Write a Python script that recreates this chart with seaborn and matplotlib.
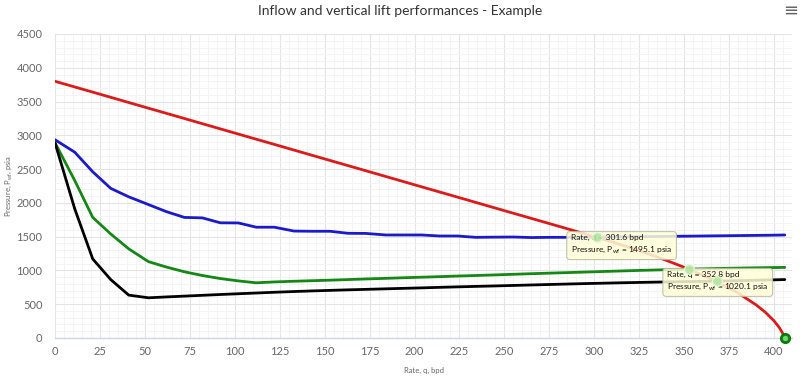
import matplotlib
matplotlib.use("Agg")
import matplotlib.pyplot as plt
from matplotlib.ticker import MultipleLocator
import pandas as pd
import seaborn as sns

# IPR curve (red)
q_ipr = [0, 25, 50, 75, 100, 125, 150, 175, 200, 225, 250, 275, 300,
         310, 320, 330, 340, 350, 360, 370, 380, 390, 395, 400, 403, 405, 406]
p_ipr = [3800, 3609, 3417, 3226, 3034, 2843, 2651, 2460, 2268, 2077, 1885, 1694, 1502,
         1421, 1336, 1247, 1150, 1047, 934, 809, 665, 491, 385, 254, 152, 61, 0]

# VLP curves share the same rate points
q_vlp = [0, 11, 21, 31, 41, 52, 62, 72, 82, 92, 102, 112, 122, 133, 143, 153, 163, 173,
         184, 194, 204, 214, 224, 234, 245, 255, 265, 275, 285, 296, 306, 316, 326, 336,
         347, 357, 367, 377, 387, 397, 406]
p_blue = [2935, 2750, 2460, 2215, 2090, 1975, 1870, 1785, 1778, 1705, 1703, 1640, 1640,
          1583, 1580, 1580, 1550, 1548, 1525, 1525, 1525, 1510, 1510, 1490, 1493, 1495,
          1487, 1490, 1490, 1492, 1495, 1497, 1500, 1503, 1506, 1509, 1512, 1515, 1518,
          1521, 1525]
p_green = [2890, 2330, 1785, 1540, 1320, 1130, 1050, 980, 925, 880, 845, 817, 830, 840,
           848, 856, 865, 874, 883, 892, 900, 908, 917, 925, 934, 943, 952, 960, 968, 977,
           985, 993, 1001, 1008, 1015, 1022, 1028, 1033, 1038, 1042, 1045]
p_black = [2890, 1910, 1170, 865, 635, 595, 608, 620, 632, 644, 655, 666, 677, 688, 697,
           705, 713, 720, 728, 735, 742, 750, 757, 764, 771, 778, 785, 792, 799, 806, 812,
           818, 823, 828, 833, 837, 841, 847, 853, 859, 865]

# intersection points shown with tooltips
q_hover = [301.6, 352.8, 368.4]
p_hover = [1495.1, 1020.1, 842.0]
tip_texts = ["Rate, q = 301.6 bpd\nPressure, $\\mathregular{P_{wf}}$ = 1495.1 psia",
             "Rate, q = 352.8 bpd\nPressure, $\\mathregular{P_{wf}}$ = 1020.1 psia"]
q_open, p_open = 406, 0

sns.set_theme(style="white")
plt.rcParams["font.family"] = ["Lato", "DejaVu Sans"]

fig = plt.figure(figsize=(8, 3.77), dpi=100)
ax = fig.add_axes([55 / 800, 39 / 377, 737 / 800, 304 / 377])

ipr = pd.DataFrame({"q": q_ipr, "p": p_ipr})
vlp = pd.DataFrame({"q": q_vlp, "blue": p_blue, "green": p_green, "black": p_black})

sns.lineplot(data=ipr, x="q", y="p", color="#dd1a1a", lw=2, sort=False, estimator=None, ax=ax, zorder=3)
for col, c in [("blue", "#1a1acc"), ("green", "#148814"), ("black", "#000000")]:
    sns.lineplot(data=vlp, x="q", y=col, color=c, lw=2, sort=False, estimator=None, ax=ax, zorder=3)

ax.plot([q_open], [p_open], marker="o", ms=6, mfc="#6fd46f", mec="#0a7a0a", mew=2,
        ls="none", zorder=6, clip_on=False)

ax.set_xlim(0, 410)
ax.set_ylim(0, 4500)
ax.xaxis.set_major_locator(MultipleLocator(25))
ax.xaxis.set_minor_locator(MultipleLocator(5))
ax.yaxis.set_major_locator(MultipleLocator(500))
ax.yaxis.set_minor_locator(MultipleLocator(100))
ax.grid(which="major", color="#e4e4e4", lw=0.8)
ax.grid(which="minor", color="#f3f3f3", lw=0.6)
ax.set_axisbelow(True)
for s in ["top", "right", "left"]:
    ax.spines[s].set_visible(False)
ax.spines["bottom"].set_color("#ccd6eb")
ax.spines["bottom"].set_linewidth(1)
ax.tick_params(which="both", length=0)
ax.tick_params(axis="x", labelsize=8, labelcolor="#666666", pad=6)
ax.tick_params(axis="y", labelsize=8, labelcolor="#666666", pad=9)

ax.set_xlabel("Rate, q, bpd", fontsize=5.5, color="#666666", labelpad=7)
ax.set_ylabel("Pressure, $\\mathregular{P_{wf}}$, psia", fontsize=5.5, color="#666666", labelpad=2)

fig.text(0.5, 0.972, "Inflow and vertical lift performances - Example", ha="center", va="center",
         fontsize=10, color="#333333")
fig.text(0.9885, 0.972, "\u2261", ha="center", va="center", fontsize=13, color="#666666",
         family="DejaVu Sans")

# tooltips
tip_pos = [(287, 1545), (340.5, 1000)]
for (tx, ty), txt in zip(tip_pos, tip_texts):
    ax.text(tx, ty, txt, fontsize=6, color="#111111", ha="left", va="top", linespacing=1.6,
            zorder=7, bbox=dict(boxstyle="round,pad=0.5,rounding_size=0.4", fc="#ffffd8",
                                ec="#b8b8a0", lw=0.8, alpha=0.85))
ax.plot(q_hover, p_hover, ls="none", marker="o", ms=7, mfc="#b4e6a0", mec="#e6f7dc",
        mew=1, alpha=0.9, zorder=8)

fig.savefig("out.png", dpi=100)
